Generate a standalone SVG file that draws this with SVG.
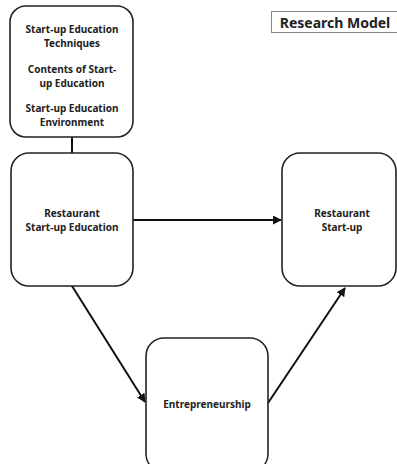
<svg xmlns="http://www.w3.org/2000/svg" width="397" height="464" viewBox="0 0 397 464">
<style>
.box{fill:#fff;stroke:#222;stroke-width:1.6}
.t{font-family:"Noto Sans","Liberation Sans",sans-serif;font-weight:bold;font-size:10px;fill:#222;text-anchor:middle}
.c{stroke:#111;stroke-width:2;fill:none}
</style>
<defs>
<marker id="ah" viewBox="0 0 10 10" refX="9" refY="5" markerWidth="4.5" markerHeight="4.5" orient="auto" markerUnits="strokeWidth">
<path d="M0,0 L10,5 L0,10 z" fill="#111"/>
</marker>
</defs>
<rect width="397" height="464" fill="#fff"/>
<g id="connectors">
<line class="c" x1="72" y1="137" x2="72" y2="153"/>
<line class="c" x1="133" y1="220" x2="281" y2="220" marker-end="url(#ah)"/>
<line class="c" x1="72" y1="286" x2="145" y2="402" marker-end="url(#ah)"/>
<line class="c" x1="268" y1="403" x2="345" y2="288" marker-end="url(#ah)"/>
</g>
<g id="title">
<rect x="271.5" y="11.5" width="128" height="21" fill="#fff" stroke="#888" stroke-width="1"/>
<text x="335" y="27.5" class="t" style="font-size:14px">Research Model</text>
</g>
<g id="factors">
<rect class="box" x="10" y="6" width="123" height="131" rx="16"/>
<text class="t" x="72" y="33">Start-up Education</text>
<text class="t" x="72" y="47">Techniques</text>
<text class="t" x="72" y="73">Contents of Start-</text>
<text class="t" x="72" y="87">up Education</text>
<text class="t" x="72" y="112">Start-up Education</text>
<text class="t" x="72" y="126">Environment</text>
</g>
<g id="education">
<rect class="box" x="11" y="153" width="122" height="133" rx="18"/>
<text class="t" x="72" y="217">Restaurant</text>
<text class="t" x="72" y="231">Start-up Education</text>
</g>
<g id="startup">
<rect class="box" x="282" y="153" width="114" height="133" rx="18"/>
<text class="t" x="342" y="217">Restaurant</text>
<text class="t" x="342" y="231">Start-up</text>
</g>
<g id="entrepreneurship">
<rect class="box" x="146" y="338" width="122" height="134" rx="18"/>
<text class="t" x="207" y="408">Entrepreneurship</text>
</g>
</svg>
